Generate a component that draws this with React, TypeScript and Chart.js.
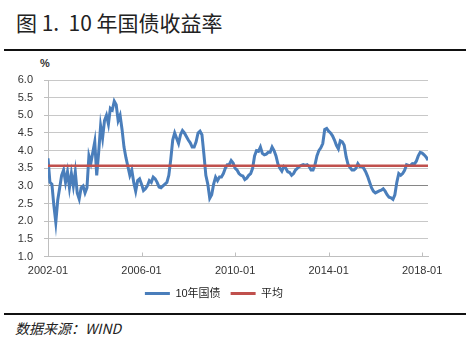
import React, { useEffect, useRef } from "react";
import { Chart, registerables } from "chart.js";

Chart.register(...registerables);

const FONT = '"Liberation Sans", Arial, "Noto Sans CJK SC", sans-serif';
const CJK = '"Noto Sans CJK SC", "Liberation Sans", sans-serif';

const titleText = "图 1.  10 年国债收益率";
const sourceText = "数据来源：WIND";
const unitLabel = "%";
const seriesNames = ["10年国债", "平均"];
const startYear = 2002;
const tickLabels = ["2002-01", "2006-01", "2010-01", "2014-01", "2018-01"];
const averageYield = 3.57;

// Monthly 10Y government bond yield (%), 2002-01 .. 2018-04
const yields = [
  // 2002
  3.78, 3.1, 3.05, 2.45, 1.97, 2.6, 2.95, 3.3, 3.45, 3.1, 3.4, 2.95,
  // 2003
  3.35, 3.0, 3.4, 2.8, 2.63, 2.95, 3.0, 2.8, 2.95, 3.85, 3.65, 3.95,
  // 2004
  4.25, 3.3, 3.95, 4.7, 4.35, 4.85, 5.0, 4.75, 5.2, 5.15, 5.4, 5.3,
  // 2005
  4.85, 5.0, 4.6, 4.1, 3.8, 3.55, 3.3, 3.45, 3.1, 2.85, 3.15, 3.2,
  // 2006
  3.05, 2.87, 2.92, 3.0, 3.15, 3.1, 3.25, 3.2, 3.1, 2.97, 2.95, 3.0,
  // 2007
  3.05, 3.1, 3.3, 3.75, 4.3, 4.5, 4.35, 4.2, 4.45, 4.57, 4.5, 4.4,
  // 2008
  4.3, 4.22, 4.1, 4.1, 4.25, 4.5, 4.55, 4.45, 3.9, 3.3, 3.05, 2.65,
  // 2009
  2.75, 3.05, 3.25, 3.15, 3.25, 3.25, 3.35, 3.5, 3.6, 3.6, 3.72, 3.65,
  // 2010
  3.5, 3.45, 3.35, 3.3, 3.28, 3.18, 3.22, 3.3, 3.35, 3.5, 3.85, 4.0,
  // 2011
  3.98, 4.1, 3.92, 3.88, 3.9, 3.95, 3.95, 4.1, 4.0, 3.85, 3.62, 3.5,
  // 2012
  3.42, 3.55, 3.5, 3.4, 3.38, 3.3, 3.35, 3.45, 3.5, 3.55, 3.58, 3.6,
  // 2013
  3.58, 3.6, 3.55, 3.45, 3.45, 3.6, 3.85, 4.0, 4.08, 4.2, 4.6, 4.63,
  // 2014
  4.55, 4.5, 4.42, 4.3, 4.15, 4.05, 4.28, 4.25, 4.15, 3.82, 3.6, 3.52,
  // 2015
  3.45, 3.45, 3.5, 3.63, 3.55, 3.55, 3.5, 3.4, 3.27, 3.11, 2.95, 2.85,
  // 2016
  2.8, 2.83, 2.86, 2.88, 2.92, 2.85, 2.75, 2.68, 2.66, 2.62, 2.75, 3.1,
  // 2017
  3.35, 3.3, 3.35, 3.44, 3.6, 3.58, 3.58, 3.63, 3.62, 3.7, 3.85, 3.95,
  // 2018
  3.93, 3.88, 3.82, 3.73,
];

function monthIndex(label: string): number {
  const [y, m] = label.split("-").map(Number);
  return (y - startYear) * 12 + (m - 1);
}

const xTickMarks = {
  id: "xTickMarks",
  afterDatasetsDraw(chart: any) {
    const { ctx, chartArea, scales } = chart;
    const x = scales.x;
    ctx.save();
    ctx.strokeStyle = "#BFBFBF";
    ctx.lineWidth = 1;
    x.ticks.forEach((t: any) => {
      const px = Math.round(x.getPixelForValue(t.value)) + 0.5;
      ctx.beginPath();
      ctx.moveTo(px, chartArea.bottom);
      ctx.lineTo(px, chartArea.bottom - 4);
      ctx.stroke();
    });
    ctx.restore();
  },
};

export default function App() {
  const canvasRef = useRef<HTMLCanvasElement | null>(null);

  useEffect(() => {
    if (!canvasRef.current) return;
    const lastIdx = yields.length - 1;
    const chart = new Chart(canvasRef.current, {
      type: "line",
      data: {
        datasets: [
          {
            label: seriesNames[0],
            data: yields.map((v, i) => ({ x: i, y: v })),
            borderColor: "#4A7EBB",
            backgroundColor: "#4A7EBB",
            borderWidth: 3,
            pointRadius: 0,
            tension: 0,
            order: 1,
          },
          {
            label: seriesNames[1],
            data: [
              { x: 0, y: averageYield },
              { x: lastIdx, y: averageYield },
            ],
            borderColor: "#C0504D",
            backgroundColor: "#C0504D",
            borderWidth: 2.5,
            pointRadius: 0,
            order: 0,
          },
        ],
      },
      options: {
        animation: false,
        responsive: false,
        maintainAspectRatio: false,
        layout: { padding: { left: 0, right: 39, top: 25, bottom: 0 } },
        plugins: {
          legend: {
            position: "bottom",
            labels: {
              boxWidth: 25,
              boxHeight: 3,
              padding: 10,
              color: "#222",
              font: { size: 11, family: FONT },
              sort: (a: any, b: any) => a.datasetIndex - b.datasetIndex,
              generateLabels: (c: any) =>
                Chart.defaults.plugins.legend.labels
                  .generateLabels(c)
                  .map((l: any) => ({ ...l, lineWidth: 0 })),
            },
          },
          tooltip: { enabled: false },
        },
        scales: {
          x: {
            type: "linear",
            min: 0,
            max: lastIdx,
            afterBuildTicks: (s: any) => {
              s.ticks = tickLabels.map((l) => ({ value: monthIndex(l) }));
            },
            afterFit: (s: any) => {
              s.height = 21.5;
            },
            ticks: {
              autoSkip: false,
              maxRotation: 0,
              padding: 8,
              color: "#333",
              font: { size: 11, family: FONT },
              callback: (v: any) => {
                const found = tickLabels.find((l) => monthIndex(l) === Number(v));
                return found || "";
              },
            },
            grid: { display: true, drawOnChartArea: false, drawTicks: false },
            border: { display: true, color: "#BFBFBF", width: 1 },
          },
          y: {
            min: 1,
            max: 6,
            afterFit: (s: any) => {
              s.width = 48;
            },
            ticks: {
              stepSize: 0.5,
              padding: 11,
              color: "#333",
              font: { size: 11, family: FONT },
              callback: (v: any) => Number(v).toFixed(1),
            },
            grid: {
              color: (ctx: any) =>
                ctx.tick && Math.abs(ctx.tick.value - 3) < 1e-6 ? "#868686" : "#C8C8C8",
              tickColor: "#BFBFBF",
              tickLength: 4,
              lineWidth: 1,
            },
            border: { display: true, color: "#BFBFBF", width: 1 },
          },
        },
      },
      plugins: [xTickMarks],
    } as any);
    return () => chart.destroy();
  }, []);

  return (
    <div
      style={{
        position: "fixed",
        left: 0,
        top: 0,
        width: 467,
        height: 352,
        background: "#fff",
        overflow: "hidden",
      }}
    >
      <div
        style={{
          position: "absolute",
          left: 16,
          top: 10,
          fontFamily: CJK,
          fontSize: 21,
          fontWeight: 400,
          lineHeight: "24px",
          color: "#222",
          whiteSpace: "pre",
        }}
      >
        {titleText}
      </div>
      <div style={{ position: "absolute", left: 4, top: 49, width: 462, height: 2, background: "#111" }} />
      <div
        style={{
          position: "absolute",
          left: 40,
          top: 57,
          fontFamily: FONT,
          fontSize: 11,
          fontWeight: "bold",
          color: "#333",
          lineHeight: "13px",
        }}
      >
        {unitLabel}
      </div>
      <canvas
        ref={canvasRef}
        width={467}
        height={254}
        style={{ position: "absolute", left: 0, top: 55, width: 467, height: 254 }}
      />
      <div style={{ position: "absolute", left: 4, top: 313, width: 462, height: 2, background: "#111" }} />
      <div
        style={{
          position: "absolute",
          left: 15,
          top: 319,
          fontFamily: CJK,
          fontSize: 14,
          fontStyle: "italic",
          lineHeight: "18px",
          color: "#222",
          whiteSpace: "pre",
        }}
      >
        {sourceText}
      </div>
    </div>
  );
}
